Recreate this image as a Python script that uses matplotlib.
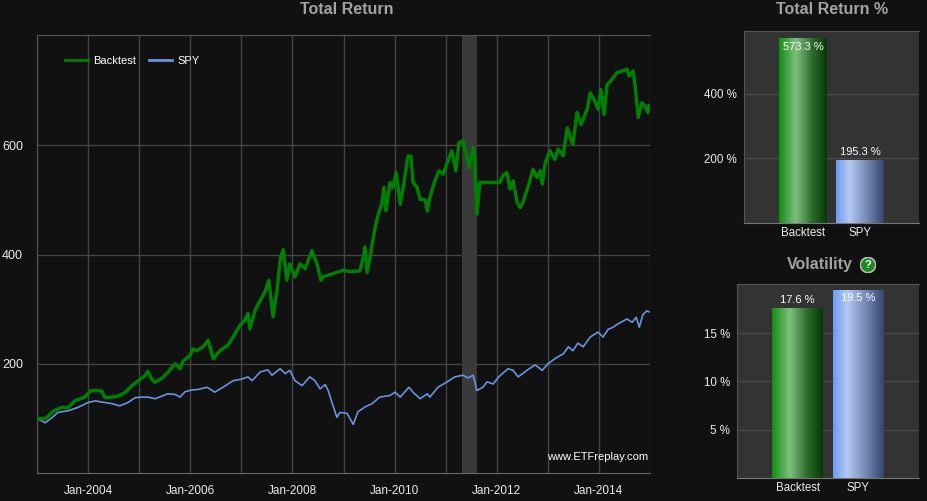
import numpy as np
import pandas as pd
import matplotlib
matplotlib.use("Agg")
import matplotlib.pyplot as plt
import matplotlib.dates as mdates
from matplotlib.colors import LinearSegmentedColormap
from matplotlib.patches import Circle

plt.rcParams['font.family'] = ['Liberation Sans', 'DejaVu Sans']

# ---------------- data ----------------
bt_t = [2003.00, 2003.16, 2003.35, 2003.49, 2003.61, 2003.74, 2003.94, 2004.04, 2004.14, 2004.27,
        2004.33, 2004.47, 2004.59, 2004.72, 2004.86, 2004.98, 2005.11, 2005.17, 2005.25, 2005.31,
        2005.45, 2005.56, 2005.70, 2005.80, 2005.86, 2006.00, 2006.05, 2006.13, 2006.25, 2006.35,
        2006.45, 2006.58, 2006.74, 2006.84, 2006.97, 2007.07, 2007.13, 2007.17, 2007.27, 2007.37,
        2007.46, 2007.54, 2007.62, 2007.70, 2007.76, 2007.82, 2007.89, 2007.95, 2008.05, 2008.15,
        2008.25, 2008.38, 2008.48, 2008.56, 2008.60, 2008.79, 2008.99, 2009.13, 2009.32, 2009.38,
        2009.42, 2009.46, 2009.52, 2009.56, 2009.62, 2009.68, 2009.75, 2009.79, 2009.83, 2009.91,
        2009.97, 2010.03, 2010.11, 2010.18, 2010.26, 2010.32, 2010.36, 2010.44, 2010.50, 2010.60,
        2010.64, 2010.69, 2010.79, 2010.87, 2010.95, 2011.03, 2011.12, 2011.20, 2011.26, 2011.34,
        2011.42, 2011.46, 2011.54, 2011.57, 2011.61, 2011.63, 2011.67, 2012.06, 2012.12, 2012.20,
        2012.26, 2012.32, 2012.40, 2012.46, 2012.51, 2012.61, 2012.71, 2012.79, 2012.85, 2012.89,
        2012.95, 2013.04, 2013.14, 2013.20, 2013.30, 2013.38, 2013.43, 2013.49, 2013.57, 2013.65,
        2013.77, 2013.83, 2013.92, 2013.98, 2014.04, 2014.10, 2014.16, 2014.26, 2014.35, 2014.45,
        2014.55, 2014.59, 2014.67, 2014.71, 2014.77, 2014.84, 2014.90, 2014.96, 2014.98]
bt_v = [100, 99, 115, 120, 120, 132, 139, 150, 151, 150,
        138, 139, 141, 147, 160, 169, 178, 186, 171, 166,
        174, 184, 200, 191, 205, 216, 227, 224, 231, 243,
        209, 224, 234, 249, 270, 280, 292, 264, 298, 316,
        331, 353, 286, 335, 390, 409, 353, 383, 359, 383,
        374, 407, 383, 353, 359, 365, 371, 369, 370, 392,
        414, 367, 395, 419, 450, 474, 492, 523, 480, 532,
        523, 550, 492, 529, 580, 580, 532, 523, 501, 500,
        480, 504, 535, 553, 547, 568, 590, 553, 605, 608,
        577, 559, 596, 577, 474, 492, 532, 532, 544, 550,
        520, 535, 495, 486, 495, 523, 556, 541, 553, 529,
        568, 590, 574, 593, 581, 632, 617, 602, 660, 638,
        666, 696, 681, 666, 702, 657, 711, 721, 733, 736,
        739, 727, 736, 708, 651, 678, 672, 660, 673]

spy_t = [2003.00, 2003.16, 2003.29, 2003.41, 2003.61, 2003.80, 2004.00, 2004.14, 2004.33, 2004.47,
         2004.62, 2004.78, 2004.92, 2005.06, 2005.17, 2005.31, 2005.45, 2005.56, 2005.70, 2005.80,
         2005.90, 2006.03, 2006.15, 2006.33, 2006.48, 2006.64, 2006.84, 2007.01, 2007.13, 2007.21,
         2007.37, 2007.52, 2007.60, 2007.76, 2007.86, 2007.95, 2008.05, 2008.19, 2008.34, 2008.44,
         2008.54, 2008.64, 2008.70, 2008.78, 2008.87, 2008.93, 2009.07, 2009.19, 2009.28, 2009.42,
         2009.56, 2009.71, 2009.91, 2010.01, 2010.11, 2010.28, 2010.36, 2010.50, 2010.64, 2010.69,
         2010.85, 2011.03, 2011.18, 2011.34, 2011.44, 2011.54, 2011.61, 2011.73, 2011.81, 2011.93,
         2012.04, 2012.22, 2012.32, 2012.42, 2012.59, 2012.75, 2012.89, 2013.00, 2013.18, 2013.30,
         2013.40, 2013.49, 2013.59, 2013.69, 2013.83, 2013.98, 2014.08, 2014.18, 2014.28, 2014.37,
         2014.55, 2014.65, 2014.73, 2014.79, 2014.86, 2014.94, 2014.98]
spy_v = [100, 92, 101, 111, 114, 120, 129, 132, 129, 127,
         123, 129, 138, 139, 139, 136, 141, 145, 144, 139,
         149, 152, 153, 157, 148, 157, 169, 172, 176, 169,
         185, 189, 179, 191, 182, 188, 169, 160, 176, 169,
         154, 162, 151, 127, 102, 111, 109, 89, 112, 121,
         127, 139, 142, 148, 139, 157, 148, 136, 145, 139,
         157, 167, 176, 179, 174, 179, 151, 157, 167, 163,
         176, 191, 188, 176, 188, 198, 188, 200, 212, 218,
         231, 224, 238, 231, 249, 258, 249, 263, 267, 273,
         282, 276, 285, 267, 290, 297, 295]

shade_span = ("2011-05-01", "2011-08-10")

bar_cats = ["Backtest", "SPY"]
total_return = [573.3, 195.3]
volatility = [17.6, 19.5]

main_ticks = ["2004-01-01", "2006-01-01", "2008-01-01", "2010-01-01", "2012-01-01", "2014-01-01"]

# ---------------- helpers ----------------
def to_dates(ts):
    out = []
    for t in ts:
        y = int(np.floor(t))
        start = pd.Timestamp(year=y, month=1, day=1)
        end = pd.Timestamp(year=y + 1, month=1, day=1)
        out.append(start + (end - start) * (t - y))
    return pd.to_datetime(out)

BG = "#111111"
GRID = "#444444"
TXT = "#ececec"
TITLE = "#a3a3a3"
GREEN = "#008000"
BLUE = "#6a93e0"

fig = plt.figure(figsize=(9.28, 5.01), dpi=100, facecolor=BG)
W, H = 928.0, 501.0

def add_ax(x0, y0, x1, y1):
    return fig.add_axes([x0 / W, 1 - y1 / H, (x1 - x0) / W, (y1 - y0) / H])

# ---------------- main chart ----------------
ax = add_ax(37, 35, 650, 473)
ax.set_facecolor(BG)
bt_d = to_dates(bt_t)
spy_d = to_dates(spy_t)
ax.axvspan(pd.Timestamp(shade_span[0]), pd.Timestamp(shade_span[1]), color="#3a3a3a", zorder=1, lw=0)
ax.plot(spy_d, spy_v, color=BLUE, lw=1.2, zorder=3, label="SPY")
ax.plot(bt_d, bt_v, color=GREEN, lw=2.5, zorder=4, label="Backtest")
ax.set_xlim(pd.Timestamp("2003-01-01"), pd.Timestamp("2015-01-01"))
ax.set_ylim(0, 802)
ax.set_yticks([200, 400, 600])
ax.set_xticks(pd.to_datetime(main_ticks))
ax.xaxis.set_major_formatter(mdates.DateFormatter("%b-%Y"))
ax.xaxis.set_minor_locator(mdates.YearLocator())
ax.grid(True, which="major", axis="y", color=GRID, lw=1)
ax.grid(True, which="both", axis="x", color=GRID, lw=1)
ax.tick_params(axis="both", which="both", length=0, colors=TXT, labelsize=8.5)
ax.tick_params(axis="y", pad=10, labelsize=9)
ax.tick_params(axis="x", pad=9)
ax.spines["right"].set_visible(False)
for s in ["left", "bottom", "top"]:
    ax.spines[s].set_color("#555555")
ax.spines["bottom"].set_color("#666666")
ax.set_axisbelow(True)
h, l = ax.get_legend_handles_labels()
leg = ax.legend([h[1], h[0]], [l[1], l[0]], loc="upper left", ncol=2, frameon=False,
                fontsize=8, labelcolor="#ffffff", bbox_to_anchor=(0.03, 0.975),
                handlelength=2.0, columnspacing=1.2, handletextpad=0.5)
for line in leg.get_lines():
    line.set_linewidth(2)
ax.text(0.997, 0.025, "www.ETFreplay.com", transform=ax.transAxes, ha="right", va="bottom",
        color="#ffffff", fontsize=8, zorder=6)
fig.text(347 / W, 1 - 10 / H, "Total Return", ha="center", va="center", color=TITLE,
         fontsize=11.5, fontweight="bold")

# ---------------- gradient bars ----------------
cm_green = LinearSegmentedColormap.from_list("g", [(0.0, "#138c13"), (0.35, "#7dc07d"),
                                                   (0.7, "#2c6a2c"), (1.0, "#063806")])
cm_blue = LinearSegmentedColormap.from_list("b", [(0.0, "#6d9bf0"), (0.28, "#b3c9f3"),
                                                  (0.7, "#6b7fa8"), (1.0, "#34466e")])
grad = np.linspace(0, 1, 256).reshape(1, -1)

def grad_bars(axb, vals, width):
    bars = axb.bar(range(len(vals)), vals, width=width, color="none", edgecolor="none", zorder=3)
    for b, cm in zip(bars, [cm_green, cm_blue]):
        x0, y0 = b.get_x(), b.get_y()
        im = axb.imshow(grad, cmap=cm, aspect="auto", zorder=3,
                        extent=(x0, x0 + b.get_width(), y0, y0 + b.get_height()))
        im.set_clip_path(b)
    return bars

def style_bar_ax(axb):
    axb.set_facecolor("#333333")
    axb.grid(True, axis="y", color="#4a4a4a", lw=1)
    axb.set_axisbelow(True)
    axb.tick_params(axis="both", length=0, colors=TXT, labelsize=8.3)
    axb.tick_params(axis="y", pad=5)
    axb.tick_params(axis="x", pad=3)
    axb.spines["right"].set_visible(False)
    for s in ["left", "bottom", "top"]:
        axb.spines[s].set_color("#555555")
    axb.spines["bottom"].set_color("#777777")
    axb.set_xticks(range(len(bar_cats)))
    axb.set_xticklabels(bar_cats)

# Total Return %
ax1 = add_ax(744, 31, 919, 223)
style_bar_ax(ax1)
grad_bars(ax1, total_return, 0.84)
ax1.set_xlim(-1.035, 2.035)
ax1.set_ylim(0, 594)
ax1.set_yticks([200, 400])
ax1.set_yticklabels(["200 %", "400 %"])
ax1.text(0, total_return[0] - 12, f"{total_return[0]:.1f} %", ha="center", va="top",
         color="#ffffff", fontsize=8, zorder=5)
ax1.text(1, total_return[1] + 8, f"{total_return[1]:.1f} %", ha="center", va="bottom",
         color="#ffffff", fontsize=8, zorder=5)
fig.text(832 / W, 1 - 10 / H, "Total Return %", ha="center", va="center", color=TITLE,
         fontsize=11.5, fontweight="bold")

# Volatility
ax2 = add_ax(737, 284, 919, 478)
style_bar_ax(ax2)
grad_bars(ax2, volatility, 0.83)
ax2.set_xlim(-1.0, 2.0)
ax2.set_ylim(0, 20.07)
ax2.set_yticks([5, 10, 15])
ax2.set_yticklabels(["5 %", "10 %", "15 %"])
ax2.text(0, volatility[0] + 0.3, f"{volatility[0]:.1f} %", ha="center", va="bottom",
         color="#ffffff", fontsize=8, zorder=5)
ax2.text(1, volatility[1] - 0.4, f"{volatility[1]:.1f} %", ha="center", va="top",
         color="#ffffff", fontsize=8, zorder=5)
fig.text(820 / W, 1 - 265 / H, "Volatility", ha="center", va="center", color=TITLE,
         fontsize=11.5, fontweight="bold")
# help icon
icon_ax = add_ax(860, 257, 876, 273)
icon_ax.set_xlim(-1, 1); icon_ax.set_ylim(-1, 1); icon_ax.axis("off")
icon_ax.add_patch(Circle((0, 0), 0.95, facecolor="#1a8a1a", edgecolor="#bbbbbb", lw=1.2))
icon_ax.text(0, -0.05, "?", ha="center", va="center", color="white", fontsize=8, fontweight="bold")

fig.savefig("out.png", dpi=100, facecolor=BG)
